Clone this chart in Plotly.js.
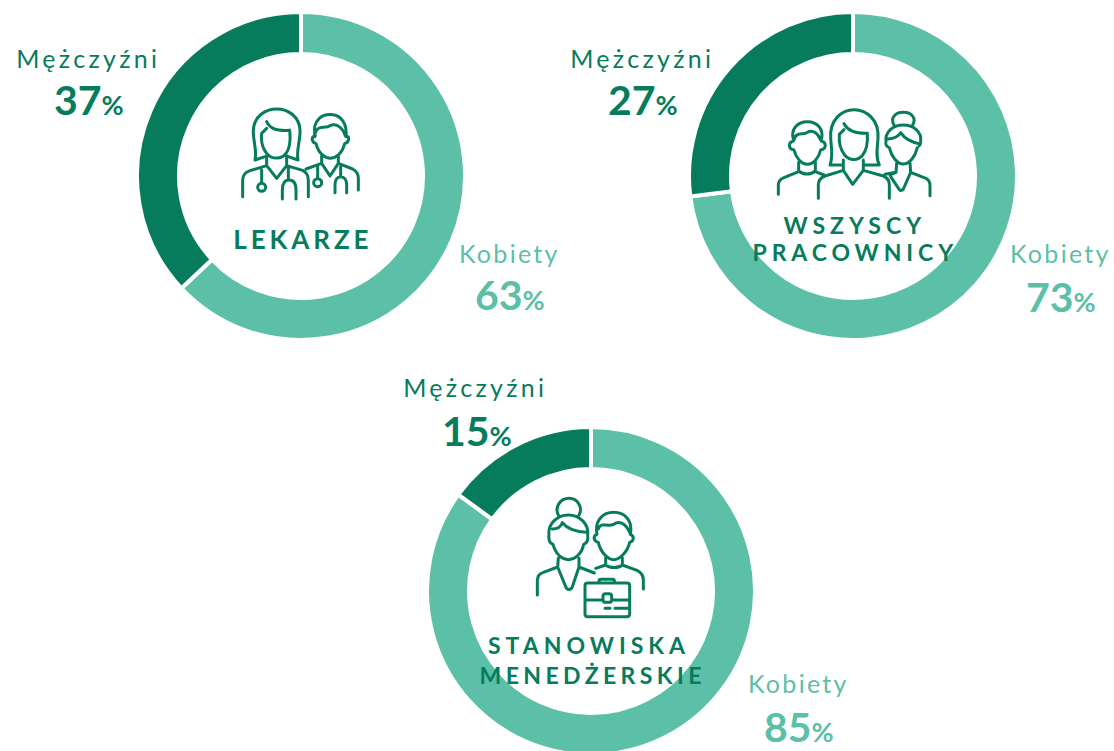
<!DOCTYPE html>
<html><head><meta charset="utf-8">
<script src="https://cdn.plot.ly/plotly-3.0.1.min.js"></script>
<style>
html,body{margin:0;padding:0;background:#fff;overflow:hidden;width:1114px;height:751px}
#chart{width:1114px;height:760px}
.annotation[data-index="0"] text,.annotation[data-index="1"] text,.annotation[data-index="2"] text{letter-spacing:3.3px}
.annotation[data-index="3"] text,.annotation[data-index="4"] text,.annotation[data-index="5"] text{letter-spacing:2.3px}
.annotation[data-index="12"] text{letter-spacing:3.9px}
.annotation[data-index="13"] text{letter-spacing:5px}
.annotation[data-index="14"] text{letter-spacing:4.9px}
.annotation[data-index="15"] text{letter-spacing:5px}
.annotation[data-index="16"] text{letter-spacing:4.4px}
</style></head><body><div id="chart"></div>
<script>
const categories = ["Kobiety", "Mężczyźni"];
const panelNames = ["LEKARZE", "WSZYSCY PRACOWNICY", "STANOWISKA MENEDŻERSKIE"];
const womenShare = [63, 73, 85];
const menShare = [37, 27, 15];
const titleLines = [["LEKARZE"], ["WSZYSCY", "PRACOWNICY"], ["STANOWISKA", "MENEDŻERSKIE"]];

const DARK = "#067C5C", LIGHT = "#5CBFA8";
const W = 1114, H = 760;
const px = x => x / W, py = y => 1 - y / H;

// layout: ring centres and label anchors, in page pixels
const centres = [[301, 176], [853, 176], [591, 591]];
const R = 164;
const menLabelAt = [[88, 57.5, 88.5, 100], [642, 57.5, 643, 100], [475, 387.5, 477, 430]];
const womenLabelAt = [[509, 253, 510, 295], [1060, 253, 1061, 296], [798, 683, 799, 726]];
const titleAt = [[[303, 239]], [[855, 225], [856, 252]], [[589, 645], [592, 675]]];
const titleSize = [26, 23, 23];

const data = centres.map((c, i) => ({
  type: "pie", name: panelNames[i], labels: categories, values: [womenShare[i], menShare[i]],
  sort: false, direction: "clockwise", rotation: 0, hole: 0.744,
  textinfo: "none", hoverinfo: "skip", showlegend: false,
  marker: {colors: [LIGHT, DARK], line: {color: "#ffffff", width: 4}},
  domain: {x: [px(c[0] - R), px(c[0] + R)], y: [py(c[1] + R), py(c[1] - R)]}
}));

function label(x, y, text, size, color) {
  return {xref: "paper", yref: "paper", x: px(x), y: py(y), text, showarrow: false,
    xanchor: "center", yanchor: "middle", borderpad: 0,
    font: {family: "Lato, 'Open Sans', sans-serif", size, color}};
}
function pct(v) { return "<b>" + v + "<span style=\"font-size:27px\">%</span></b>"; }

const annotations = [];
menLabelAt.forEach(m => annotations.push(label(m[0], m[1], categories[1], 25, DARK)));      // 0-2
womenLabelAt.forEach(w => annotations.push(label(w[0], w[1], categories[0], 25, LIGHT)));   // 3-5
menLabelAt.forEach((m, i) => annotations.push(label(m[2], m[3], pct(menShare[i]), 41, DARK)));    // 6-8
womenLabelAt.forEach((w, i) => annotations.push(label(w[2], w[3], pct(womenShare[i]), 41, LIGHT))); // 9-11
titleLines.forEach((lines, i) => lines.forEach((t, j) =>                                          // 12-16
  annotations.push(label(titleAt[i][j][0], titleAt[i][j][1], "<b>" + t + "</b>", titleSize[i], DARK))));

// line icons, drawn in the units of a 3x view of their page region
function svgUri(w, h, d) {
  const s = '<svg xmlns="http://www.w3.org/2000/svg" viewBox="0 0 ' + w + ' ' + h + '" width="' + w + '" height="' + h + '">' +
    '<path d="' + d + '" fill="none" stroke="' + DARK + '" stroke-width="9" stroke-linecap="round" stroke-linejoin="round"/></svg>';
  return "data:image/svg+xml;charset=utf-8," + encodeURIComponent(s);
}
const doctors = "M105 195 C112 165 98 135 100 105 C102 65 135 42 170 42 C205 42 238 65 240 105 C242 135 228 165 234 195 L205 185 " +
 "M105 195 L135 185 M140 80 C150 100 165 108 208 106 M125 115 C122 140 128 160 140 175 C155 194 185 194 198 175 C210 160 212 135 209 106 M125 115 L140 100 " +
 "M140 182 L140 212 M200 182 L200 212 M68 305 L68 255 C68 240 75 232 90 227 L140 212 L170 250 L200 212 L248 226 C260 232 265 242 265 255 L265 305 " +
 "M125 225 L125 265 M137 277 A12 12 0 1 1 113 277 A12 12 0 1 1 137 277 M205 215 L205 255 " +
 "M187 312 L187 285 C187 265 195 255 207 255 C220 255 228 265 228 285 L228 312 " +
 "M285 125 C282 100 282 85 298 70 C315 55 345 55 362 70 C378 85 380 105 378 125 M287 112 C292 90 315 102 330 92 C345 85 365 92 376 122 " +
 "M286 122 C272 125 275 142 288 146 C295 175 315 190 331 190 C347 190 367 175 374 146 C388 142 390 125 378 122 " +
 "M305 182 L305 205 L330 243 L355 205 L355 182 M258 222 L305 205 M355 205 L398 222 C410 228 415 238 415 250 L415 285 " +
 "M293 215 L293 250 M305 263 A12 12 0 1 1 281 263 A12 12 0 1 1 305 263 M362 215 L362 245 " +
 "M345 293 L345 270 C345 255 352 245 362 245 C373 245 380 255 380 270 L380 293";
const staff = "M130 132 C122 105 140 80 172 80 C204 80 222 105 214 132 M132 135 C138 108 160 122 172 112 C188 102 205 115 212 135 " +
 "M130 138 C114 142 114 162 132 165 C138 190 155 208 172 208 C190 208 206 190 212 165 C230 162 230 142 214 138 " +
 "M146 202 L146 228 C160 240 182 240 196 228 L196 202 M85 298 L85 270 C85 258 92 252 102 248 L146 230 M196 230 L222 240 " +
 "M240 210 C250 185 244 160 242 130 C238 75 275 44 312 44 C350 44 388 75 384 130 C382 160 376 185 388 210 L345 210 M240 210 L278 210 " +
 "M282 86 C295 110 320 116 352 115 M268 118 L282 104 M268 118 C266 145 272 165 284 180 C298 198 325 198 338 180 C350 165 354 145 352 115 " +
 "M280 195 L280 226 L308 268 L340 226 L340 195 M205 310 L205 270 C205 255 212 248 225 243 L280 226 M340 226 L400 243 C412 248 418 258 418 270 L418 310 " +
 "M432 90 C420 70 435 52 460 52 C485 52 500 70 488 90 M408 140 C404 110 430 90 460 90 C490 90 516 110 512 140 C512 146 510 150 508 152 " +
 "M414 132 C432 130 445 125 452 113 C465 132 485 142 508 146 M408 140 C405 150 412 156 418 158 C424 185 442 207 460 207 C478 207 496 185 502 158 " +
 "M440 204 L438 232 L420 240 M480 204 L482 232 M422 245 L448 284 C452 288 458 286 460 282 L482 232 L528 250 C536 254 540 262 540 272 L540 302 M405 238 L438 232";
const mgmt = "M250 90 C238 68 255 40 282 40 C308 40 325 68 312 90 M222 150 C218 115 248 90 280 90 C312 90 342 115 338 150 " +
 "M232 132 C248 132 258 124 262 113 C275 130 300 140 335 142 M222 150 C220 165 226 175 234 178 C242 208 262 224 280 224 C298 224 320 208 326 178 C334 175 340 165 338 150 " +
 "M250 220 L248 246 M312 220 L312 246 M187 330 L187 288 C187 272 195 265 205 262 L248 246 L272 305 C276 316 288 316 292 305 L312 246 L358 264 " +
 "M366 148 C358 105 385 82 416 82 C448 82 474 105 466 148 M370 132 C378 108 398 128 416 118 C432 105 452 115 464 142 " +
 "M366 148 C354 152 354 168 370 172 C376 200 398 224 416 224 C434 224 458 200 464 172 C478 168 478 152 466 148 " +
 "M392 218 L392 240 C405 250 430 250 442 240 L442 218 M362 250 L392 240 M442 240 L486 256 C498 262 505 270 505 285 L505 312 " +
 "M338 294 L456 294 Q464 294 464 302 L464 387 Q464 395 456 395 L338 395 Q330 395 330 387 L330 302 Q330 294 338 294 M372 292 L372 288 Q372 283 378 283 L412 283 Q418 283 418 288 L418 292 " +
 "M330 345 L384 345 M410 345 L464 345 M392 326 L402 326 Q410 326 410 334 L410 344 Q410 352 402 352 L392 352 Q384 352 384 344 L384 334 Q384 326 392 326 " +
 "M390 370 L405 370 M420 370 L462 370";
const icons = [
  {x: 220, y: 95, w: 160, h: 110, d: doctors},
  {x: 750, y: 95, w: 210, h: 110, d: staff},
  {x: 475, y: 485, w: 235, h: 140, d: mgmt}
];
const images = icons.map(k => ({
  source: svgUri(k.w * 3, k.h * 3, k.d), xref: "paper", yref: "paper",
  x: px(k.x), y: py(k.y), sizex: k.w / W, sizey: k.h / H,
  xanchor: "left", yanchor: "top", sizing: "stretch", layer: "above"
}));

Plotly.newPlot("chart", data, {
  width: W, height: H, margin: {l: 0, r: 0, t: 0, b: 0},
  paper_bgcolor: "#ffffff", plot_bgcolor: "#ffffff",
  annotations, images, showlegend: false
}, {displayModeBar: false, staticPlot: true});
</script></body></html>
